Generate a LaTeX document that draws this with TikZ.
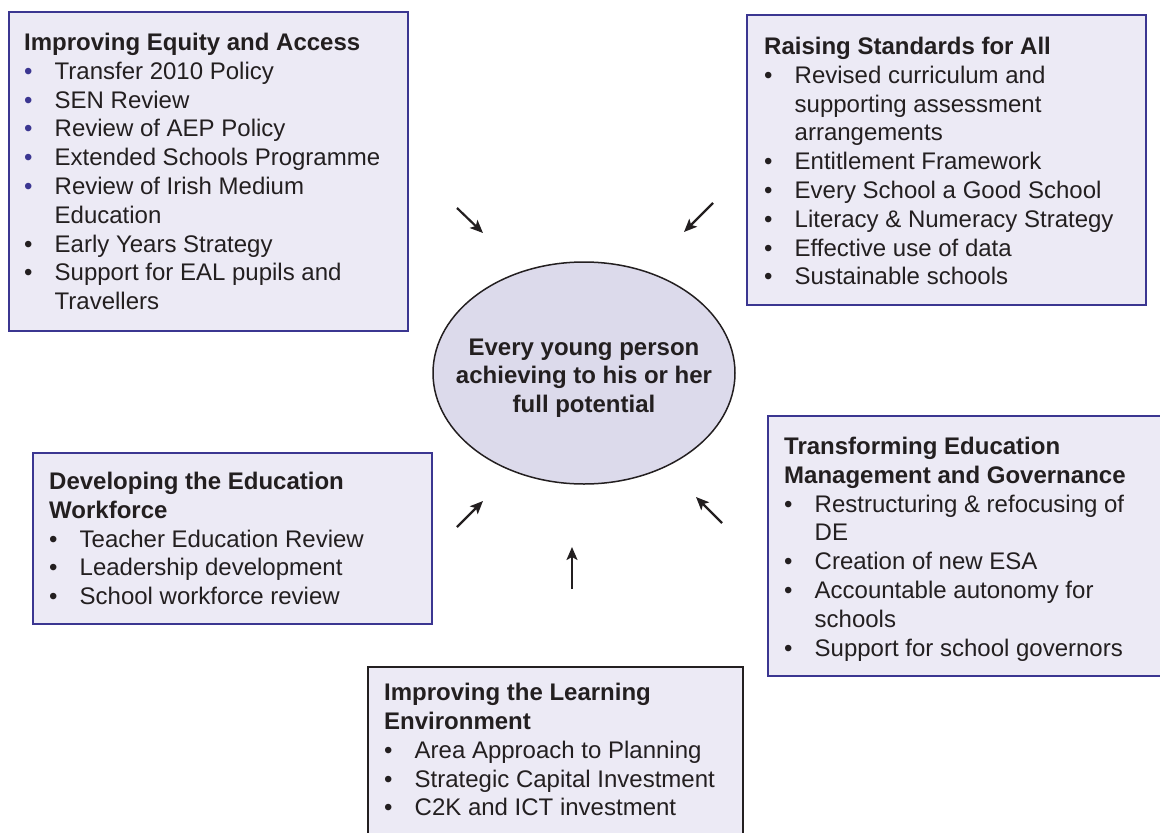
\documentclass[tikz,border=0pt]{standalone}
\usepackage{fontspec}
\setmainfont{Liberation Sans}
\usetikzlibrary{arrows.meta, shapes, positioning, calc}
\definecolor{frame}{HTML}{3B3691}
\definecolor{panel}{HTML}{ECEAF5}
\definecolor{core}{HTML}{DCDAEB}
\definecolor{ink}{HTML}{231F20}
\def\itm#1{\makebox[30.5pt][l]{\textbullet}#1}
\def\bitm#1{\makebox[30.5pt][l]{\textcolor{frame}{\textbullet}}#1}
\def\cont#1{\hspace*{30.5pt}#1}

\begin{document}
\begin{tikzpicture}[x=1pt, y=1pt,
	box/.style = {draw=frame, line width=2.4pt, fill=panel, inner sep=0pt, anchor=north west},
	txt/.style = {inner sep=0pt, align=left, text=ink, font=\fontsize{24}{28.8}\selectfont},
	arr/.style = {line width=2.2pt, ink, -{Stealth[length=13pt, width=11pt, inset=3pt]}}]
	\clip (0,0) rectangle (1160,-833);

	% central goal
	\node[ellipse, draw=ink, line width=1.5pt, fill=core, minimum width=302pt, minimum height=222pt,
		inner sep=0pt] (goal) at (584,-373) {};
	\node[align=center, inner sep=0pt, text=ink, font=\fontsize{24}{28.6}\selectfont\bfseries]
		(goal text) at ($(goal.center)+(0,-5)$) {Every young person\\achieving to his or her\\full potential};

	% the five themes
	\node[box, minimum width=399pt, minimum height=319pt] (equity) at (8,-11) {};
	\node[txt, below right=22pt and 16pt of equity.north west] (equity list) {%
		\textbf{Improving Equity and Access}\\
		\bitm{Transfer 2010 Policy}\\
		\bitm{SEN Review}\\
		\bitm{Review of AEP Policy}\\
		\bitm{Extended Schools Programme}\\
		\bitm{Review of Irish Medium}\\
		\cont{Education}\\
		\itm{Early Years Strategy}\\
		\itm{Support for EAL pupils and}\\
		\cont{Travellers}};

	\node[box, minimum width=399pt, minimum height=290pt] (standards) at (746,-14) {};
	\node[txt, below right=23pt and 18pt of standards.north west] (standards list) {%
		\textbf{Raising Standards for All}\\
		\itm{Revised curriculum and}\\
		\cont{supporting assessment}\\
		\cont{arrangements}\\
		\itm{Entitlement Framework}\\
		\itm{Every School a Good School}\\
		\itm{Literacy \& Numeracy Strategy}\\
		\itm{Effective use of data}\\
		\itm{Sustainable schools}};

	\node[box, minimum width=399pt, minimum height=171pt] (workforce) at (32,-452) {};
	\node[txt, below right=20pt and 17pt of workforce.north west] (workforce list) {%
		\textbf{Developing the Education}\\
		\textbf{Workforce}\\
		\itm{Teacher Education Review}\\
		\itm{Leadership development}\\
		\itm{School workforce review}};

	\node[box, minimum width=400pt, minimum height=260pt] (governance) at (767,-415) {};
	\node[txt, below right=22pt and 17pt of governance.north west] (governance list) {%
		\textbf{Transforming Education}\\
		\textbf{Management and Governance}\\
		\itm{Restructuring \& refocusing of}\\
		\cont{DE}\\
		\itm{Creation of new ESA}\\
		\itm{Accountable autonomy for}\\
		\cont{schools}\\
		\itm{Support for school governors}};

	\node[box, draw=ink, line width=2pt, minimum width=375pt, minimum height=200pt] (learning) at (367,-666) {};
	\node[txt, below right=17pt and 17pt of learning.north west] (learning list) {%
		\textbf{Improving the Learning}\\
		\textbf{Environment}\\
		\itm{Area Approach to Planning}\\
		\itm{Strategic Capital Investment}\\
		\itm{C2K and ICT investment}};

	% arrows pointing in to the goal
	\coordinate (equity tail) at (457,-208);
	\coordinate (equity head) at (483,-233);
	\coordinate (standards tail) at (713,-203);
	\coordinate (standards head) at (684,-232);
	\coordinate (workforce tail) at (457,-527);
	\coordinate (workforce head) at (483,-501);
	\coordinate (governance tail) at (722,-523);
	\coordinate (governance head) at (696,-497);
	\coordinate (learning tail) at (572,-589);
	\coordinate (learning head) at (572,-547);
	\foreach \t in {equity, standards, workforce, governance, learning}
		\draw[arr] (\t\space tail) -- (\t\space head);
\end{tikzpicture}
\end{document}
